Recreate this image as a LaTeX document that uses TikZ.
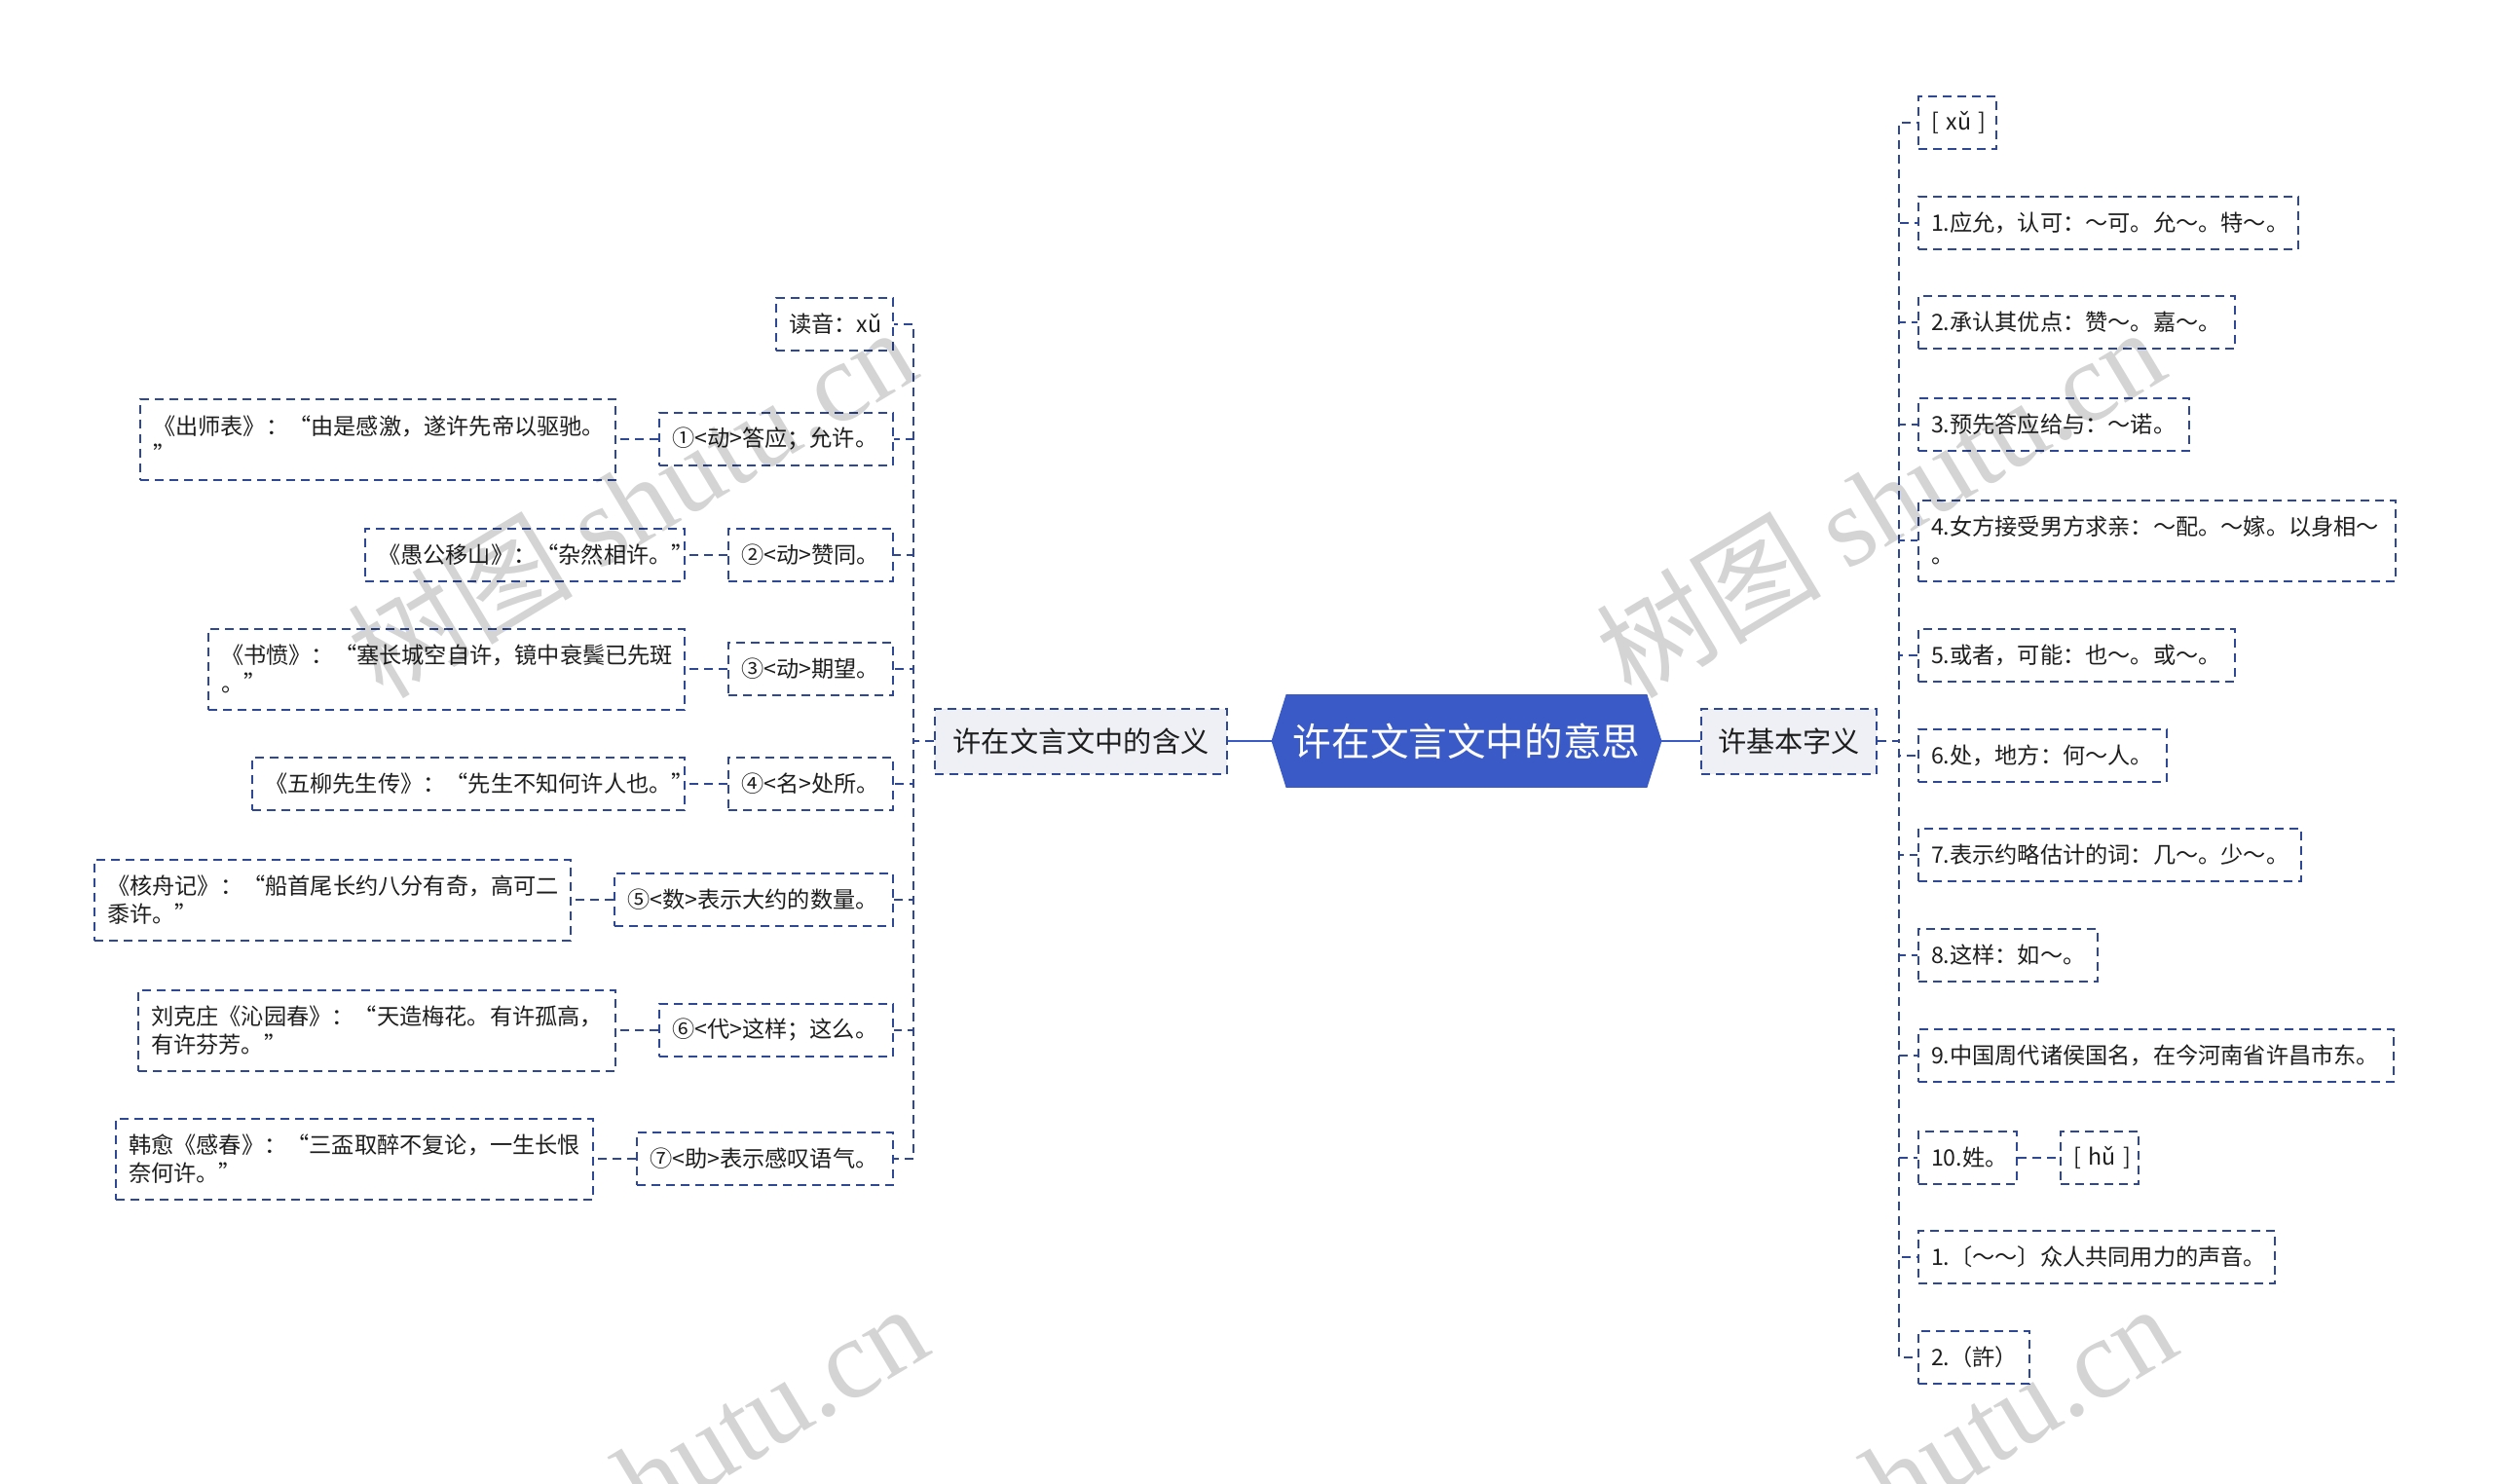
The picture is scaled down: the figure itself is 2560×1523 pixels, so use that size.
\documentclass[tikz,border=0pt]{standalone}
\usepackage{fontspec}
\setmainfont{Noto Sans CJK SC}
\newfontfamily\wmlatin{Liberation Serif}
\newfontfamily\wmcjk{Noto Sans CJK SC}
\usetikzlibrary{positioning,backgrounds}
\definecolor{rootblue}{HTML}{3A5BC7}
\definecolor{dashc}{HTML}{2E4895}
\definecolor{branchfill}{HTML}{EEF0F5}
\definecolor{txt}{HTML}{1E1E1E}
\begin{document}
\begin{tikzpicture}[x=0.5pt,y=-0.5pt,
  box/.style={draw=dashc, line width=1pt, dash pattern=on 4.5pt off 3pt, fill=white,
    inner xsep=6.5pt, inner ysep=0pt, minimum height=27pt, align=left, text=txt,
    font=\fontsize{11.6}{14.8}\selectfont},
  two/.style={minimum height=41.5pt},
  branchbox/.style={draw=dashc, line width=1pt, dash pattern=on 4.5pt off 3pt, fill=branchfill,
    minimum height=33.5pt, inner sep=0pt, text=txt, font=\fontsize{14.6}{17}\selectfont},
  conn/.style={draw=dashc, line width=1pt, dash pattern=on 4.5pt off 3pt},
  rootline/.style={draw=rootblue, line width=1.3pt},
  wm/.style={rotate=31, text=black, opacity=0.17, font=\fontsize{58}{58}\selectfont}
]
\useasboundingbox (0,0) rectangle (2560,1523);
\begin{scope}[on background layer]
\fill[white] (0,0) rectangle (2560,1523);
\end{scope}

% root
\node[minimum width=200pt, minimum height=47.5pt, inner sep=0pt, text=white,
  font=\fontsize{19.8}{22}\selectfont] (root) at (1506,761) {许在文言文中的意思};
\begin{scope}[on background layer]
\fill[rootblue] (root.west) -- ([xshift=7.5pt]root.north west) -- ([xshift=-7.5pt]root.north east)
  -- (root.east) -- ([xshift=-7.5pt]root.south east) -- ([xshift=7.5pt]root.south west) -- cycle;
\end{scope}

% branches
\node[branchbox, minimum width=150pt] (L) at (1110,761) {许在文言文中的含义};
\node[branchbox, minimum width=90pt] (R) at (1837,761) {许基本字义};
\draw[rootline] (root.west) -- (L.east);
\draw[rootline] (root.east) -- (R.west);

% right children
\node[box, anchor=west, text width=27pt] (r0) at (1969,126) {\mbox{[ xǔ ]}};
\node[box, anchor=west, text width=182pt] (r1) at (1969,229) {1.应允，认可：～可。允～。特～。};
\node[box, anchor=west, text width=149.5pt] (r2) at (1969,331) {2.承认其优点：赞～。嘉～。};
\node[box, anchor=west, text width=126pt] (r3) at (1969,436) {3.预先答应给与：～诺。};
\node[box, two, anchor=west, text width=232pt] (r4) at (1969,555) {4.女方接受男方求亲：～配。～嫁。以身相～\\。};
\node[box, anchor=west, text width=149.5pt] (r5) at (1969,673) {5.或者，可能：也～。或～。};
\node[box, anchor=west, text width=114.5pt] (r6) at (1969,776) {6.处，地方：何～人。};
\node[box, anchor=west, text width=183.5pt] (r7) at (1969,878) {7.表示约略估计的词：几～。少～。};
\node[box, anchor=west, text width=79pt] (r8) at (1969,981) {8.这样：如～。};
\node[box, anchor=west, text width=231pt] (r9) at (1969,1084) {9.中国周代诸侯国名，在今河南省许昌市东。};
\node[box, anchor=west, text width=37.5pt] (r10) at (1969,1189) {10.姓。};
\node[box, right=21.5pt of r10, text width=27pt] (rh) {\mbox{[ hǔ ]}};
\node[box, anchor=west, text width=170pt] (r11) at (1969,1291) {1.〔～～〕众人共同用力的声音。};
\node[box, anchor=west, text width=44pt] (r12) at (1969,1394) {2.（許）};

\foreach \n in {r0,r1,r2,r3,r4,r5,r6,r7,r8,r9,r10,r11,r12}
  \draw[conn] (R.east) -- ++(11pt,0) |- (\n.west);
\draw[conn] (r10.east) -- (rh.west);

% left children
\node[box, anchor=east, text width=47pt] (l0) at (918,333) {读音：xǔ};
\node[box, anchor=east, text width=107pt] (l1) at (918,451) {①<动>答应；允许。};
\node[box, anchor=east, text width=71.5pt] (l2) at (918,570) {②<动>赞同。};
\node[box, anchor=east, text width=71.5pt] (l3) at (918,687) {③<动>期望。};
\node[box, anchor=east, text width=71.5pt] (l4) at (918,805) {④<名>处所。};
\node[box, anchor=east, text width=130pt] (l5) at (918,924) {⑤<数>表示大约的数量。};
\node[box, anchor=east, text width=107pt] (l6) at (918,1058) {⑥<代>这样；这么。};
\node[box, anchor=east, text width=118.5pt] (l7) at (918,1190) {⑦<助>表示感叹语气。};

\foreach \n in {l0,l1,l2,l3,l4,l5,l6,l7}
  \draw[conn] (L.west) -- ++(-10.5pt,0) |- (\n.east);

% leaves
\node[box, two, left=21.5pt of l1, text width=231pt] (e1) {《出师表》：“由是感激，遂许先帝以驱驰。\\”};
\node[box, left=21.5pt of l2, text width=151pt] (e2) {《愚公移山》：“杂然相许。”};
\node[box, two, left=21.5pt of l3, text width=231.5pt] (e3) {《书愤》：“塞长城空自许，镜中衰鬓已先斑\\。”};
\node[box, left=21.5pt of l4, text width=209pt] (e4) {《五柳先生传》：“先生不知何许人也。”};
\node[box, two, left=21.5pt of l5, text width=231.5pt] (e5) {《核舟记》：“船首尾长约八分有奇，高可二\\黍许。”};
\node[box, two, left=21.5pt of l6, text width=232pt] (e6) {刘克庄《沁园春》：“天造梅花。有许孤高，\\有许芬芳。”};
\node[box, two, left=21.5pt of l7, text width=232pt] (e7) {韩愈《感春》：“三盃取醉不复论，一生长恨\\奈何许。”};

\draw[conn] (l1.west) -- (e1.east);
\draw[conn] (l2.west) -- (e2.east);
\draw[conn] (l3.west) -- (e3.east);
\draw[conn] (l4.west) -- (e4.east);
\draw[conn] (l5.west) -- (e5.east);
\draw[conn] (l6.west) -- (e6.east);
\draw[conn] (l7.west) -- (e7.east);

% watermarks
\begin{scope}
\clip (0,0) rectangle (2560,1523);
\node[wm] (wm1) at (648,515) {{\wmcjk 树图} {\wmlatin shutu.cn}};
\node[wm] (wm2) at (1930,515) {{\wmcjk 树图} {\wmlatin shutu.cn}};
\node[wm] (wm3) at (660,1518) {{\wmcjk 树图} {\wmlatin shutu.cn}};
\node[wm] (wm4) at (1942,1518) {{\wmcjk 树图} {\wmlatin shutu.cn}};
\end{scope}
\end{tikzpicture}
\end{document}
